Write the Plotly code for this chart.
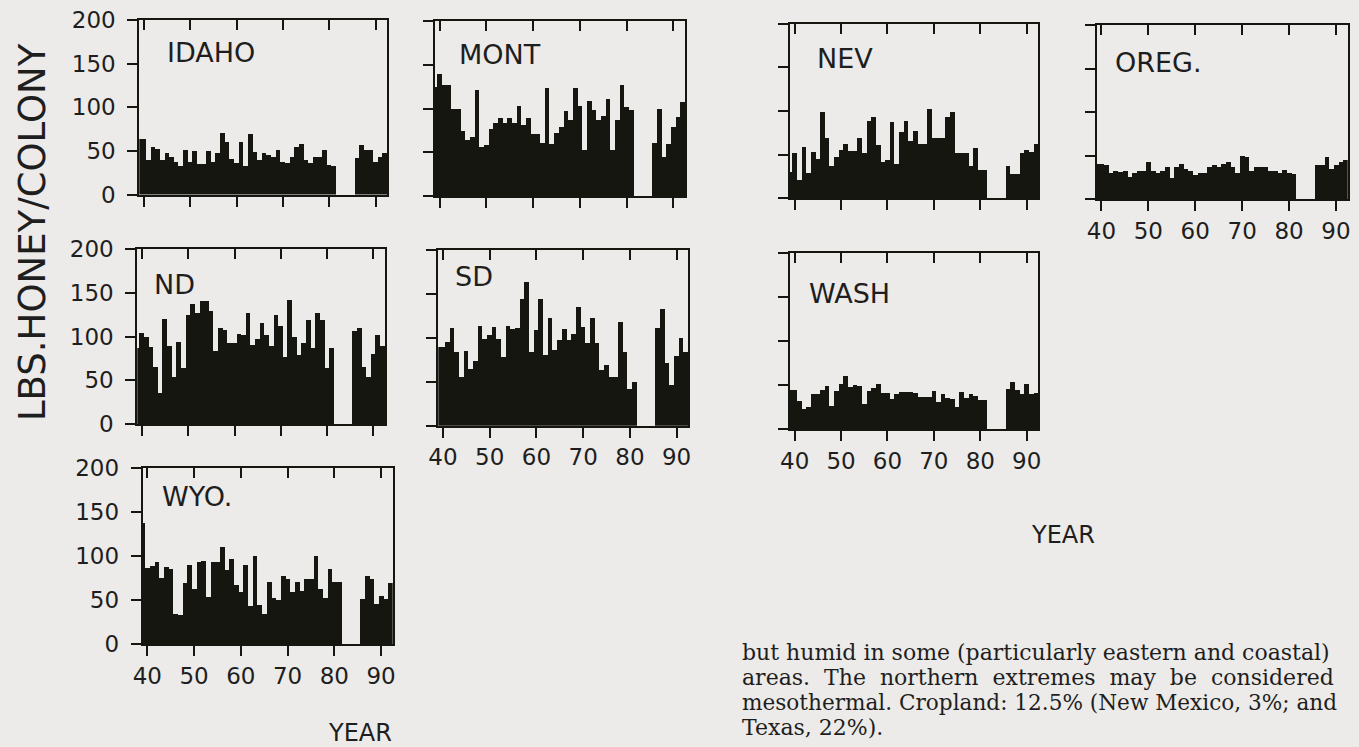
import plotly.graph_objects as go

# ---------------- data ----------------
YEARS_A = list(range(1939, 1982))   # first run of years
YEARS_B = list(range(1986, 1993))   # after the gap

STATES = ["IDAHO", "MONT", "NEV", "OREG.", "ND", "SD", "WASH", "WYO."]

IDAHO_A = [64, 64, 40, 55, 52, 40, 47, 43, 37, 33, 51, 37, 50, 35, 35, 50, 37, 47, 71, 60, 41, 36,
           60, 33, 69, 49, 40, 47, 45, 43, 51, 37, 36, 43, 54, 58, 40, 36, 43, 43, 51, 34, 33]
IDAHO_B = [42, 57, 51, 51, 37, 43, 47]

MONT_A = [125, 139, 127, 127, 100, 100, 74, 64, 68, 121, 56, 58, 77, 83, 89, 83, 89, 83, 103, 81, 89, 71,
          71, 61, 124, 60, 72, 79, 97, 87, 124, 103, 53, 109, 98, 87, 91, 111, 53, 87, 127, 102, 98]
MONT_B = [61, 100, 45, 60, 79, 90, 108]

NEV_A = [31, 52, 21, 59, 29, 54, 46, 99, 69, 38, 48, 56, 63, 55, 55, 69, 52, 89, 94, 61, 42, 44,
         88, 40, 76, 89, 66, 78, 63, 63, 103, 70, 69, 69, 94, 99, 52, 52, 52, 37, 58, 33, 33]
NEV_B = [37, 28, 28, 52, 56, 53, 63]

OREG_A = [41, 41, 39, 30, 32, 31, 32, 26, 30, 32, 32, 43, 33, 30, 32, 37, 24, 37, 40, 35, 32, 28,
          30, 30, 37, 39, 37, 40, 43, 37, 30, 50, 48, 32, 37, 37, 37, 33, 32, 30, 34, 30, 29]
OREG_B = [39, 39, 49, 35, 39, 43, 45]

ND_A = [87, 104, 99, 88, 65, 35, 120, 89, 54, 94, 64, 125, 137, 127, 140, 140, 129, 83, 110, 107, 92, 92,
        103, 102, 127, 90, 97, 115, 101, 89, 124, 112, 76, 142, 99, 79, 92, 119, 87, 127, 119, 64, 87]
ND_B = [106, 110, 65, 54, 80, 102, 89]

SD_A = [90, 90, 96, 111, 84, 56, 85, 65, 74, 114, 99, 103, 113, 99, 78, 114, 110, 111, 144, 164, 84, 109,
        144, 81, 123, 86, 98, 110, 98, 105, 135, 113, 94, 123, 95, 64, 70, 56, 56, 118, 84, 42, 50]
SD_B = [111, 133, 72, 47, 80, 100, 84]

WASH_A = [45, 45, 32, 23, 25, 40, 40, 45, 49, 27, 44, 51, 61, 48, 50, 49, 29, 43, 47, 52, 41, 41,
          35, 40, 42, 42, 42, 41, 37, 37, 37, 43, 31, 40, 36, 34, 25, 42, 36, 40, 38, 33, 33]
WASH_B = [46, 54, 45, 40, 52, 40, 41]

WYO_A = [138, 86, 89, 93, 75, 88, 85, 34, 33, 69, 90, 63, 93, 94, 54, 93, 93, 110, 84, 97, 67, 59,
         90, 43, 100, 45, 34, 71, 52, 50, 78, 74, 59, 71, 61, 74, 74, 100, 63, 52, 85, 71, 71]
WYO_B = [51, 77, 74, 46, 55, 51, 69]

SERIES = [(IDAHO_A, IDAHO_B), (MONT_A, MONT_B), (NEV_A, NEV_B), (OREG_A, OREG_B),
          (ND_A, ND_B), (SD_A, SD_B), (WASH_A, WASH_B), (WYO_A, WYO_B)]

X_TICK_VALS = [1940, 1950, 1960, 1970, 1980, 1990]
X_TICK_TEXT = ["40", "50", "60", "70", "80", "90"]
Y_TICK_VALS = [0, 50, 100, 150, 200]
Y_TICK_TEXT = ["0", "50", "100", "150", "200"]

Y_TITLE = "LBS.HONEY/COLONY"
X_TITLE = "YEAR"
PARAGRAPH = [
    "but humid in some (particularly eastern and coastal)",
    "areas.\u00a0\u00a0The\u00a0\u00a0northern\u00a0\u00a0extremes\u00a0\u00a0may\u00a0\u00a0be\u00a0\u00a0considered",
    "mesothermal. Cropland: 12.5% (New Mexico, 3%; and",
    "Texas, 22%).",
]

# ---------------- layout (pixel boxes) ----------------
W, H = 1359, 747
BG = "#ecebe9"
INK = "#161610"
TXT = "#1e1e1e"
TICK_FONT = dict(family="DejaVu Sans", size=23, color=TXT)

# (left, right, top, bottom) in px, show x labels, show y labels, title (x, y)
PANELS = [
    ((139.3, 387.3, 20.0, 194.5), False, True, (165, 53)),
    ((435.0, 685.0, 21.0, 196.0), False, False, (457, 54)),
    ((790.0, 1038.3, 23.5, 198.3), False, False, (815, 59)),
    ((1096.7, 1347.7, 25.0, 199.3), True, False, (1113, 63)),
    ((137.3, 385.0, 249.3, 424.0), False, True, (152, 284)),
    ((438.3, 688.3, 249.5, 425.7), True, False, (453, 277)),
    ((790.0, 1038.3, 252.6, 429.0), True, False, (807, 293)),
    ((142.7, 392.7, 467.7, 644.0), True, True, (160, 497)),
]
X_RANGE = [1939.0, 1992.5]
Y_RANGE = [0, 200]

fig = go.Figure()
layout = dict(
    template="none",
    width=W, height=H, margin=dict(l=0, r=0, t=0, b=0, pad=0, autoexpand=False),
    paper_bgcolor=BG, plot_bgcolor="rgba(0,0,0,0)",
    showlegend=False, bargap=0, font=dict(family="DejaVu Sans", color=TXT),
)

annotations = []
n = len(PANELS)
for i, ((l, r, t, b), show_x, show_y, (tx, ty)) in enumerate(PANELS):
    k = i + 1
    ko = i + 1 + n
    xs = "" if k == 1 else str(k)
    ys = "" if k == 1 else str(k)
    a, bb = SERIES[i]
    fig.add_trace(go.Bar(
        x=YEARS_A + YEARS_B, y=a + bb, width=1.0,
        marker=dict(color=INK, line=dict(width=0)),
        xaxis="x" + xs, yaxis="y" + ys, hoverinfo="x+y",
    ))
    # invisible trace to create the top tick overlay axis
    fig.add_trace(go.Scatter(x=[], y=[], xaxis="x" + str(ko), yaxis="y" + ys,
                             showlegend=False, hoverinfo="skip"))
    layout["xaxis" + xs] = dict(
        domain=[l / W, r / W], anchor="y" + ys, range=X_RANGE, automargin=False,
        tickvals=X_TICK_VALS, ticktext=X_TICK_TEXT, showticklabels=show_x,
        ticks="outside", ticklen=10, tickwidth=2, tickcolor=INK,
        showline=True, linewidth=2, linecolor=INK, mirror=True,
        showgrid=False, zeroline=False, tickfont=TICK_FONT, fixedrange=True,
    )
    layout["xaxis" + str(ko)] = dict(
        overlaying="x" + xs, anchor="y" + ys, side="top", range=X_RANGE, automargin=False,
        tickvals=X_TICK_VALS, showticklabels=False,
        ticks="inside", ticklen=10, tickwidth=2, tickcolor=INK,
        showline=False, showgrid=False, zeroline=False, fixedrange=True,
    )
    layout["yaxis" + ys] = dict(
        domain=[1 - b / H, 1 - t / H], anchor="x" + xs, range=Y_RANGE, automargin=False,
        tickvals=Y_TICK_VALS, ticktext=Y_TICK_TEXT, showticklabels=show_y,
        ticks="outside", ticklen=10, tickwidth=2, tickcolor=INK, ticklabelstandoff=7,
        showline=True, linewidth=2, linecolor=INK, mirror=True,
        showgrid=False, zeroline=False, tickfont=TICK_FONT, fixedrange=True,
    )
    annotations.append(dict(
        text=STATES[i], xref="paper", yref="paper", x=tx / W, y=1 - ty / H,
        xanchor="left", yanchor="middle", showarrow=False,
        font=dict(family="DejaVu Sans", size=27, color=TXT),
    ))

# axis titles
annotations.append(dict(
    text=Y_TITLE, xref="paper", yref="paper", x=33 / W, y=1 - 232 / H,
    xanchor="center", yanchor="middle", textangle=-90, showarrow=False,
    font=dict(family="DejaVu Sans", size=37, color=TXT),
))
annotations.append(dict(
    text=X_TITLE, xref="paper", yref="paper", x=1063 / W, y=1 - 535 / H,
    xanchor="center", yanchor="middle", showarrow=False,
    font=dict(family="DejaVu Sans", size=24, color=TXT),
))
annotations.append(dict(
    text=X_TITLE, xref="paper", yref="paper", x=360 / W, y=1 - 733 / H,
    xanchor="center", yanchor="middle", showarrow=False,
    font=dict(family="DejaVu Sans", size=24, color=TXT),
))

# paragraph of body text
para_y = [652, 677, 702, 727]
para_size = [22, 22, 21.6, 22]
for line, py, ps in zip(PARAGRAPH, para_y, para_size):
    annotations.append(dict(
        text=line, xref="paper", yref="paper", x=740 / W, y=1 - py / H,
        xanchor="left", yanchor="middle", showarrow=False,
        font=dict(family="DejaVu Serif", size=ps, color=TXT),
    ))

layout["annotations"] = annotations
fig.update_layout(**layout)
fig.write_html("out.html")
